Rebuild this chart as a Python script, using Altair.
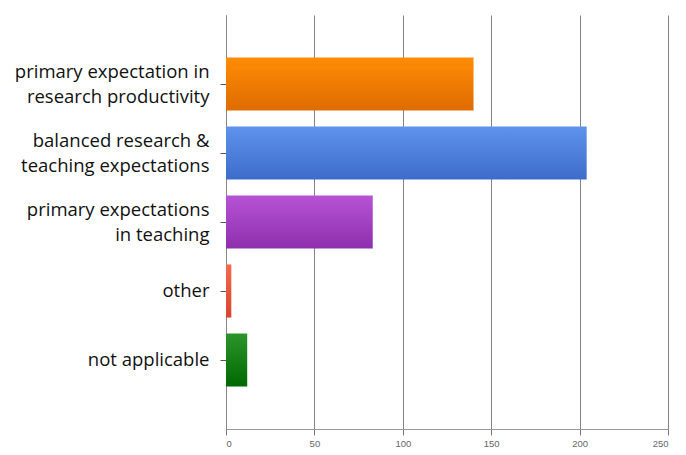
import altair as alt
import pandas as pd

categories = [
    "primary expectation in\nresearch productivity",
    "balanced research &\nteaching expectations",
    "primary expectations\nin teaching",
    "other",
    "not applicable",
]
values = [140, 204, 83, 3, 12]
top_colors = ["#FF8C05", "#5F93EC", "#B653D4", "#F26B4E", "#2B952B"]
bottom_colors = ["#DF6C00", "#3D6CCB", "#8E2FAE", "#D8452B", "#006800"]
x_ticks = [0, 50, 100, 150, 200, 250]

df = pd.DataFrame({"idx": list(range(len(categories))), "category": categories, "value": values})

base = alt.Chart(df).encode(
    y=alt.Y(
        "category:N",
        sort=categories,
        title=None,
        scale=alt.Scale(paddingInner=0.23, paddingOuter=0.615),
        axis=alt.Axis(
            labelExpr="split(datum.label, '\\n')",
            labelFont="Open Sans",
            labelFontSize=18.5,
            labelColor="#111111",
            labelLineHeight=25,
            labelPadding=11,
            labelLimit=300,
            labelOffset={
                "condition": {"test": "indexof(datum.value, '\\n') >= 0", "value": -12.5},
                "value": 0,
            },
            tickColor="#555555",
            tickSize=6,
            domainColor="#888888",
            grid=False,
        ),
    ),
    x=alt.X(
        "value:Q",
        title=None,
        scale=alt.Scale(domain=[0, 250], nice=False),
        axis=alt.Axis(
            values=x_ticks,
            labelFont="Liberation Sans",
            labelFontSize=9.5,
            labelColor="#666666",
            labelPadding=3,
            tickColor="#777777",
            tickSize=6,
            domainColor="#999999",
            gridColor="#777777",
            gridOpacity=0.9,
            grid=True,
        ),
    ),
)

layers = []
for i in range(len(categories)):
    grad = alt.Gradient(
        gradient="linear",
        stops=[
            alt.GradientStop(color=top_colors[i], offset=0),
            alt.GradientStop(color=bottom_colors[i], offset=1),
        ],
        x1=0, x2=0, y1=0, y2=1,
    )
    layers.append(
        base.transform_filter(alt.datum.idx == i).mark_bar(color=grad)
    )

chart = alt.layer(*layers).properties(
    width=442,
    height=414,
    autosize=alt.AutoSizeParams(type="none"),
    padding={"left": 218, "top": 7, "right": 10, "bottom": 20},
).configure_view(stroke=None)

chart.save("out.html", embed_options={"renderer": "svg", "actions": False})
